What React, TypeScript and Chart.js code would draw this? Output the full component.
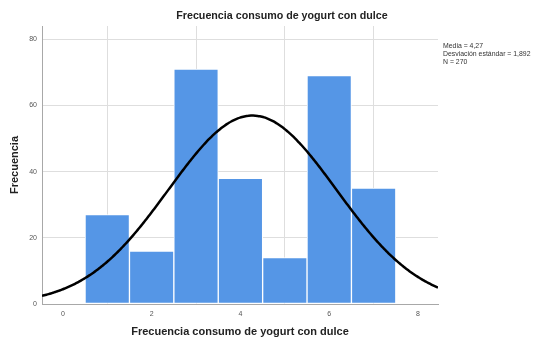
import React, { useEffect, useRef } from "react";
import { Chart, registerables } from "chart.js";

Chart.register(...registerables);

const TITLE = "Frecuencia consumo de yogurt con dulce";
const X_TITLE = "Frecuencia consumo de yogurt con dulce";
const Y_TITLE = "Frecuencia";
const CATEGORIES = [1, 2, 3, 4, 5, 6, 7];
const FREQUENCIES = [27, 16, 71, 38, 14, 69, 35];
const X_TICKS = [0, 2, 4, 6, 8];
const Y_TICKS = [0, 20, 40, 60, 80];
const MEAN = 4.27;
const SD = 1.892;
const N = 270;
const STATS = ["Media = 4,27", "Desviación estándar = 1,892", "N = 270"];
const X_MIN = -0.47;
const X_MAX = 8.45;
const Y_MAX = 84;

// fitted normal curve defined by the reported mean, SD and N (bin width 1)
const CURVE: { x: number; y: number }[] = [];
for (let i = 0; i <= 180; i++) {
  const x = X_MIN + ((X_MAX - X_MIN) * i) / 180;
  const z = (x - MEAN) / SD;
  CURVE.push({ x, y: (N / (SD * Math.sqrt(2 * Math.PI))) * Math.exp(-0.5 * z * z) });
}

const FONT = '"Liberation Sans", Arial, sans-serif';

const textPlugin = {
  id: "texts",
  afterDraw(chart: any) {
    const ctx = chart.ctx;
    const area = chart.chartArea;
    ctx.save();
    ctx.fillStyle = "#222";
    ctx.font = `bold 10.7px ${FONT}`;
    ctx.textAlign = "center";
    ctx.textBaseline = "middle";
    ctx.fillText(TITLE, 282, 16.5);
    ctx.font = `6.9px ${FONT}`;
    ctx.fillStyle = "#333";
    ctx.textAlign = "left";
    STATS.forEach((s, i) => ctx.fillText(s, area.right + 5, 46 + i * 8));
    ctx.restore();
  },
};

export default function App() {
  const ref = useRef<HTMLCanvasElement>(null);
  useEffect(() => {
    const chart = new Chart(ref.current!, {
      type: "bar",
      data: {
        datasets: [
          {
            type: "line",
            data: CURVE,
            borderColor: "#000",
            borderWidth: 2.5,
            pointRadius: 0,
            tension: 0.3,
            order: 1,
          } as any,
          {
            type: "bar",
            data: CATEGORIES.map((c, i) => ({ x: c, y: FREQUENCIES[i] })),
            backgroundColor: "#5596E6",
            borderColor: "#ffffff",
            borderWidth: 1,
            borderSkipped: false,
            barPercentage: 1,
            categoryPercentage: 1,
            order: 2,
          } as any,
        ],
      },
      options: {
        animation: false,
        responsive: false,
        maintainAspectRatio: false,
        layout: { padding: { top: 26, right: 102, left: 0, bottom: 0 } },
        plugins: { legend: { display: false }, tooltip: { enabled: false }, title: { display: false } },
        scales: {
          x: {
            type: "linear",
            min: X_MIN,
            max: X_MAX,
            offset: false,
            afterBuildTicks: (s: any) => {
              s.ticks = X_TICKS.map((v) => ({ value: v }));
            },
            afterFit: (s: any) => {
              s.height = 35;
            },
            grid: { color: "#dedede", drawTicks: false },
            border: { color: "#a8a8a8", width: 1 },
            ticks: { color: "#555", font: { size: 7, family: FONT }, padding: 6, maxRotation: 0 },
            title: {
              display: true,
              text: X_TITLE,
              color: "#222",
              font: { size: 11, weight: "bold", family: FONT },
              padding: { top: 0, bottom: 0 },
            },
          },
          y: {
            min: 0,
            max: Y_MAX,
            afterBuildTicks: (s: any) => {
              s.ticks = Y_TICKS.map((v) => ({ value: v }));
            },
            afterFit: (s: any) => {
              s.width = 42;
            },
            grid: { color: "#dedede", drawTicks: false },
            border: { color: "#a8a8a8", width: 1 },
            ticks: { color: "#555", font: { size: 7, family: FONT }, padding: 5 },
            title: {
              display: true,
              text: Y_TITLE,
              color: "#222",
              font: { size: 11, weight: "bold", family: FONT },
              padding: { top: 8, bottom: 0 },
            },
          },
        },
      },
      plugins: [textPlugin],
    } as any);
    return () => chart.destroy();
  }, []);
  return (
    <div style={{ position: "fixed", left: 0, top: 0, width: 540, height: 339, background: "#fff" }}>
      <canvas ref={ref} width={540} height={339} style={{ width: 540, height: 339 }} />
    </div>
  );
}
